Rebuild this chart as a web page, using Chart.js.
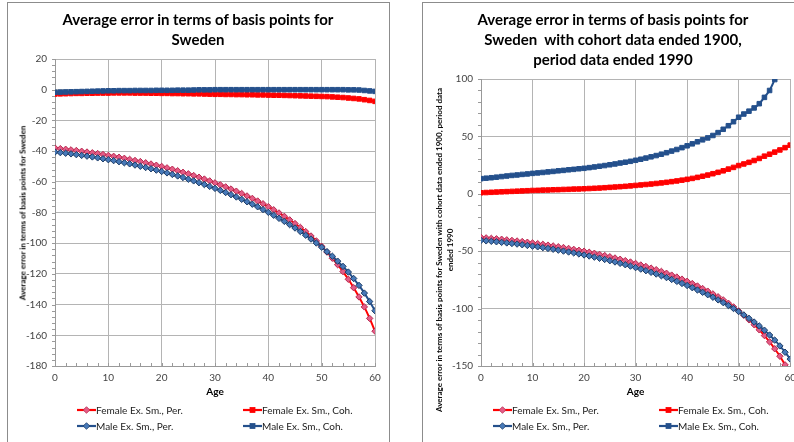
<!DOCTYPE html>
<html><head><meta charset="utf-8">
<script src="https://cdn.jsdelivr.net/npm/chart.js@4.4.1/dist/chart.umd.min.js"></script>
<style>
html,body{margin:0;padding:0;width:794px;height:442px;overflow:hidden;background:#fff;font-family:Lato,"Noto Sans",sans-serif;}
.box{position:absolute;border:1px solid #8c8c8c;box-sizing:border-box;}
canvas{position:absolute;top:0;}
.title{position:absolute;font-weight:bold;font-size:15px;line-height:20px;text-align:center;color:#000;white-space:nowrap;transform:translateX(-50%);}
.ytitle{position:absolute;font-weight:bold;font-size:8px;line-height:11px;text-align:center;color:#000;white-space:nowrap;transform:translate(-50%,-50%) rotate(-90deg);}
.leg{position:absolute;font-size:10px;line-height:12px;color:#222;white-space:nowrap;}
.leg svg{vertical-align:top;}
</style>
</head><body>
<div class="box" style="left:7px;top:2px;width:383px;height:470px;"></div>
<div class="box" style="left:422px;top:2px;width:400px;height:470px;"></div>

<canvas id="c1" style="left:0px"></canvas>
<canvas id="c2" style="left:422px"></canvas>

<div class="title" style="left:198px;top:9px;">Average error in terms of basis points for<br>Sweden</div>
<div class="title" style="left:613px;top:9px;">Average error in terms of basis points for<br>Sweden&nbsp; with cohort data ended 1900,<br>period data ended 1990</div>

<div class="ytitle" style="left:23px;top:213px;">Average error in terms of basis points for Sweden</div>
<div class="ytitle" style="left:445px;top:250px;">Average error in terms of basis points for Sweden with cohort data ended 1900, period data<br>ended 1990</div>

<div id="legends"></div>

<script>
// ---- data ----
const ages = [0,1,2,3,4,5,6,7,8,9,10,11,12,13,14,15,16,17,18,19,20,21,22,23,24,25,26,27,28,29,30,
  31,32,33,34,35,36,37,38,39,40,41,42,43,44,45,46,47,48,49,50,51,52,53,54,55,56,57,58,59,60];

const femalePer = [-38.0,-38.4,-38.8,-39.2,-39.6,-40.1,-40.6,-41.1,-41.6,-42.2,
 -42.8,-43.4,-44.0,-44.7,-45.4,-46.1,-46.8,-47.6,-48.4,-49.2,
 -50.0,-50.9,-51.8,-52.8,-53.8,-54.8,-55.9,-57.0,-58.2,-59.4,
 -60.7,-62.0,-63.3,-64.7,-66.1,-67.6,-69.2,-70.8,-72.5,-74.3,
 -76.2,-78.2,-80.3,-82.5,-84.8,-87.2,-89.7,-92.4,-95.3,-98.5,
 -102.0,-105.8,-109.8,-114.0,-118.5,-123.5,-129.0,-135.0,-141.5,-149.0,
 -157.3];

const malePer = [-40.6,-41.0,-41.4,-41.8,-42.3,-42.8,-43.3,-43.8,-44.4,-45.0,
 -45.6,-46.2,-46.9,-47.6,-48.3,-49.1,-49.9,-50.7,-51.5,-52.4,
 -53.3,-54.2,-55.2,-56.2,-57.2,-58.3,-59.4,-60.6,-61.8,-63.0,
 -64.3,-65.6,-67.0,-68.4,-69.9,-71.4,-73.0,-74.6,-76.3,-78.1,
 -79.9,-81.8,-83.8,-85.8,-87.9,-90.1,-92.4,-94.8,-97.3,-99.9,
 -102.6,-105.5,-108.5,-111.7,-115.1,-118.8,-123.0,-127.5,-132.5,-138.0,
 -144.0];

const femaleCohA = [-2.8,-2.7,-2.6,-2.5,-2.4,-2.4,-2.3,-2.3,-2.2,-2.2,
 -2.2,-2.1,-2.1,-2.1,-2.1,-2.2,-2.2,-2.2,-2.3,-2.3,
 -2.4,-2.4,-2.5,-2.5,-2.6,-2.6,-2.7,-2.7,-2.8,-2.9,
 -3.0,-3.0,-3.1,-3.1,-3.2,-3.2,-3.3,-3.3,-3.4,-3.4,
 -3.5,-3.6,-3.6,-3.7,-3.8,-3.9,-4.0,-4.1,-4.2,-4.3,
 -4.4,-4.5,-4.7,-4.9,-5.1,-5.4,-5.7,-6.0,-6.5,-7.0,
 -7.6];

const maleCohA = [-1.7,-1.6,-1.5,-1.4,-1.3,-1.2,-1.1,-1.0,-0.9,-0.8,
 -0.7,-0.7,-0.6,-0.6,-0.6,-0.5,-0.5,-0.5,-0.5,-0.4,
 -0.4,-0.4,-0.4,-0.3,-0.3,-0.3,-0.2,-0.1,-0.1,-0.1,
 0.0,0.0,0.0,0.0,0.0,0.0,0.0,0.0,0.0,0.0,
 0.0,0.0,0.0,0.0,0.0,0.0,0.0,0.0,0.0,0.0,
 0.0,0.0,0.0,0.0,0.0,-0.1,-0.1,-0.2,-0.5,-0.8,
 -1.1];

const femaleCohB = [0.9,1.1,1.3,1.5,1.7,1.9,2.1,2.3,2.5,2.7,
 2.9,3.0,3.2,3.3,3.5,3.6,3.8,3.9,4.1,4.2,
 4.4,4.6,4.8,5.0,5.3,5.6,5.9,6.2,6.5,6.9,
 7.3,7.7,8.1,8.5,9.0,9.5,10.0,10.6,11.2,11.9,
 12.6,13.4,14.3,15.3,16.3,17.5,18.7,20.0,21.5,23.0,
 24.6,26.0,27.4,29.0,30.8,32.8,34.5,36.3,38.2,40.2,
 42.4];

const maleCohB = [13.2,13.6,14.0,14.5,15.0,15.5,16.0,16.4,16.9,17.3,
 17.8,18.2,18.6,19.1,19.5,20.0,20.4,20.9,21.3,21.8,
 22.2,22.8,23.4,24.0,24.6,25.3,26.0,26.8,27.5,28.3,
 29.2,30.1,31.1,32.2,33.3,34.5,35.8,37.2,38.6,40.2,
 41.8,43.5,45.3,47.0,48.7,50.8,53.3,56.2,59.3,62.8,
 66.7,69.5,72.0,74.8,78.5,84.0,90.0,99.5,108.0,116.0,
 125.0];

const seriesNames = ["Female Ex. Sm., Per.", "Female Ex. Sm., Coh.", "Male Ex. Sm., Per.", "Male Ex. Sm., Coh."];
const yTicksA = {min:-180, max:20, step:20};
const yTicksB = {min:-150, max:100, step:50};
const xTicks = {min:0, max:60, step:10};

// ---- styles ----
const RED = '#ff0000', BLUE = '#24508c';
const styles = [
  {line:RED,  fill:'#e45c86', border:'#b8284f', shape:'rectRot', r:3.2},
  {line:RED,  fill:RED,       border:RED,       shape:'rect',    r:3.2},
  {line:BLUE, fill:'#4779b8', border:'#1d3c66', shape:'rectRot', r:3.2},
  {line:BLUE, fill:BLUE,      border:BLUE,      shape:'rect',    r:3.2}
];

const minorTicks = {
  id:'minorTicks',
  beforeDatasetsDraw(chart, args, o){
    const {ctx, scales:{x,y}} = chart;
    ctx.save(); ctx.strokeStyle = '#9a9a9a'; ctx.lineWidth = 1; ctx.beginPath();
    for (let v = y.min; v <= y.max + 1e-9; v += o.yStep){
      const py = Math.round(y.getPixelForValue(v)) + 0.5;
      ctx.moveTo(x.left - 3, py); ctx.lineTo(x.left, py);
    }
    for (let v = x.min; v <= x.max + 1e-9; v += o.xStep){
      const px = Math.round(x.getPixelForValue(v)) + 0.5;
      ctx.moveTo(px, y.bottom); ctx.lineTo(px, y.bottom - 3);
    }
    ctx.stroke(); ctx.restore();
  }
};

function makeChart(id, w, h, series, yT, area, yMinorStep){
  const cv = document.getElementById(id);
  cv.width = w; cv.height = h; cv.style.width = w + 'px'; cv.style.height = h + 'px';
  const orders = [3,2,1,0];
  const datasets = series.map((vals, i) => ({
    label: seriesNames[i],
    data: ages.map((a, k) => ({x:a, y:vals[k]})),
    borderColor: styles[i].line,
    borderWidth: 2,
    pointStyle: styles[i].shape,
    pointRadius: styles[i].r,
    pointBackgroundColor: styles[i].fill,
    pointBorderColor: styles[i].border,
    pointBorderWidth: 1,
    tension: 0.2,
    order: orders[i]
  }));
  return new Chart(cv, {
    type:'line',
    data:{datasets},
    options:{
      responsive:false, animation:false, events:[],
      layout:{padding:{left:0, top:area.top, right:w - area.right, bottom:h - area.bottom - 42}},
      plugins:{legend:{display:false}, title:{display:false}, tooltip:{enabled:false},
        minorTicks:{xStep:2, yStep:yMinorStep}},
      scales:{
        x:{type:'linear', min:xTicks.min, max:xTicks.max,
          ticks:{stepSize:xTicks.step, color:'#444', font:{family:'Lato', size:10}, padding:6, maxRotation:0},
          grid:{color:'#b4b4b4', drawTicks:false},
          border:{color:'#999'},
          title:{display:true, text:'Age', color:'#000', font:{family:'Lato', size:10, weight:'bold'}, padding:{top:0,bottom:10}},
          afterFit(s){ s.height = 42; }
        },
        y:{min:yT.min, max:yT.max,
          ticks:{stepSize:yT.step, color:'#444', font:{family:'Lato', size:10}, padding:8},
          grid:{color:'#b4b4b4', drawTicks:false},
          border:{color:'#999'},
          afterFit(s){ s.width = area.left; }
        }
      }
    },
    plugins:[minorTicks]
  });
}

makeChart('c1', 389, 442, [femalePer, femaleCohA, malePer, maleCohA], yTicksA, {left:55, right:375, top:59, bottom:366}, 4);
makeChart('c2', 380, 442, [femalePer, femaleCohB, malePer, maleCohB], yTicksB, {left:59, right:369, top:79, bottom:366}, 10);

// ---- HTML legends ----
function sym(i){
  const s = styles[i];
  const m = s.shape === 'rect'
    ? `<rect x="7" y="3.5" width="5" height="5" fill="${s.fill}" stroke="${s.border}" stroke-width="0.8"/>`
    : `<polygon points="9.5,2.7 12.8,6 9.5,9.3 6.2,6" fill="${s.fill}" stroke="${s.border}" stroke-width="0.8"/>`;
  return `<svg width="19" height="12"><line x1="0" y1="6" x2="19" y2="6" stroke="${s.line}" stroke-width="2.2"/>${m}</svg>`;
}
const legPos = [
  [[77,404],[243,404],[77,420],[243,420]],
  [[493,404],[659,404],[493,420],[659,420]]
];
let html = '';
legPos.forEach(set => set.forEach((p, i) => {
  html += `<div class="leg" style="left:${p[0]}px;top:${p[1]}px;">${sym(i)}${seriesNames[i]}</div>`;
}));
document.getElementById('legends').innerHTML = html;
</script>
</body></html>
